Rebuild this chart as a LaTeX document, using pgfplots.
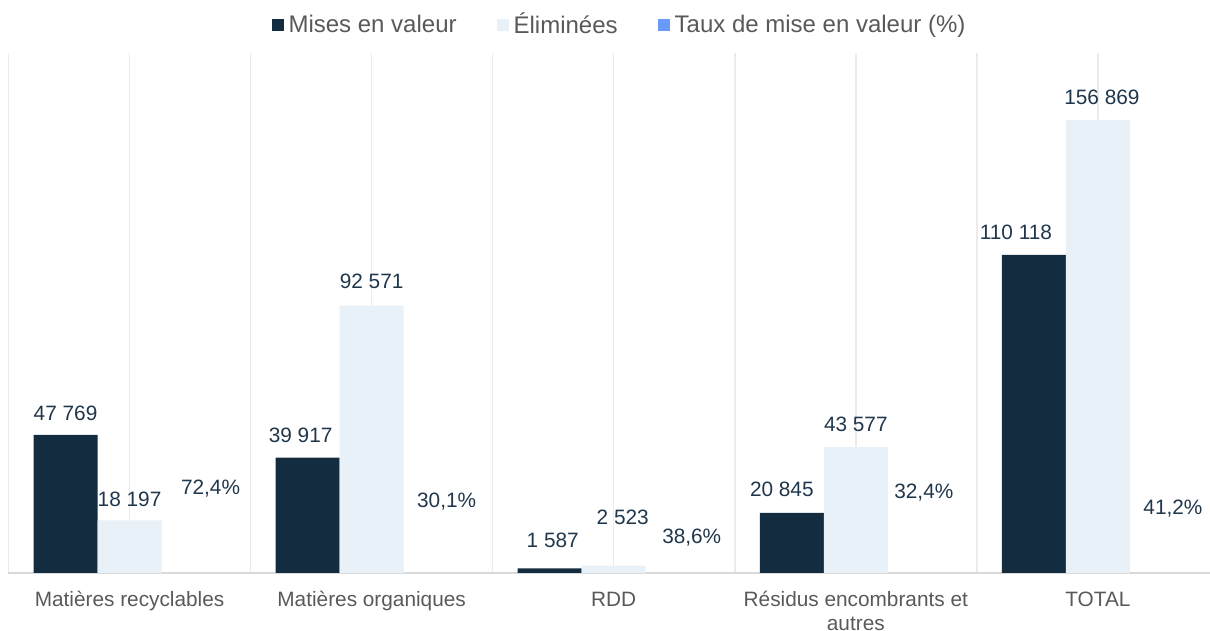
\documentclass[border=0pt]{standalone}
\usepackage{fontspec}
\setmainfont{Liberation Sans}
\usepackage{pgfplots}
\usepackage{pgfplotstable}
\pgfplotsset{compat=1.18}

\definecolor{mev}{HTML}{132C3F}
\definecolor{elim}{HTML}{E8F0F8}
\definecolor{taux}{HTML}{6A9AF8}
\definecolor{lbl}{HTML}{1F364B}
\definecolor{tickc}{HTML}{595959}
\definecolor{grd}{HTML}{EBEBEB}
\definecolor{basec}{HTML}{D9D9D9}

% x, value, label, label shifts (pt)
\pgfplotstableread[col sep=comma]{
x,y,lab,dx,dy
0,47769,47 769,0,7
1,39917,39 917,-3.5,7.8
2,1587,1 587,1.5,10.7
3,20845,20 845,-5,7.9
4,110118,110 118,-9,7.5
}\mev
\pgfplotstableread[col sep=comma]{
x,y,lab,dx,dy
0,18197,18 197,0,7.2
1,92571,92 571,0,8.3
2,2523,2 523,4.5,20.8
3,43577,43 577,0,8
4,156869,156 869,2,7.5
}\elim
\pgfplotstableread[col sep=comma]{
x,y,lab,dx,dy
0,0.724,{72,4\%},8.5,39
1,0.301,{30,1\%},5.5,32.5
2,0.386,{38,6\%},7,14.5
3,0.324,{32,4\%},2,37
4,0.412,{41,2\%},5.5,29
}\taux

\begin{document}
\begin{tikzpicture}
\useasboundingbox (0,0) rectangle (605pt,315.5pt);
\begin{axis}[
    at={(4.25pt,29pt)}, anchor=south west,
    scale only axis,
    width=600.75pt, height=260pt,
    ybar=0pt, bar width=32pt,
    xmin=-0.5, xmax=4.463, ymin=0, ymax=180000,
    enlargelimits=false,
    clip=false,
    axis x line=bottom, axis y line=none,
    x axis line style={-, draw=basec, line width=1pt},
    ytick=\empty,
    xtick={0,...,4},
    minor xtick={-0.5,0.5,1.5,2.5,3.5},
    xmajorgrids=true, xminorgrids=true,
    major grid style={draw=grd, line width=0.75pt},
    minor grid style={draw=grd, line width=0.75pt},
    major tick length=0pt, minor tick length=0pt,
    xticklabels={Matières recyclables, Matières organiques, RDD,
        {\begin{tabular}[t]{@{}c@{}}Résidus encombrants et\\autres\end{tabular}}, TOTAL},
    xticklabel style={font=\fontsize{10.4}{12}\selectfont, text=tickc, anchor=base, inner sep=0pt, yshift=-17pt},
    point meta=explicit symbolic,
    nodes near coords,
    nodes near coords style={font=\fontsize{10.4}{12}\selectfont, text=lbl, anchor=base, inner sep=0pt},
    visualization depends on={\thisrow{dx} \as \dx},
    visualization depends on={\thisrow{dy} \as \dy},
    every node near coord/.append style={xshift=\dx pt, yshift=\dy pt},
    legend columns=-1,
    legend style={at={(0.5077,1.054)}, anchor=center, draw=none, fill=none,
        font=\fontsize{12}{14}\selectfont, text=tickc,
        nodes={inner sep=0pt},
        column sep=2.5pt,
        /tikz/every even column/.append style={column sep=20pt}},
    legend image code/.code={\fill[#1,draw=none] (0pt,-3pt) rectangle (6pt,3pt);},
]
\addplot[fill=mev, draw=none] table[x=x, y=y, meta=lab]{\mev};
\addplot[fill=elim, draw=none] table[x=x, y=y, meta=lab]{\elim};
\addplot[fill=none, draw=none,
    legend image code/.code={\fill[taux] (0pt,-3pt) rectangle (6pt,3pt);}]
    table[x=x, y=y, meta=lab]{\taux};
\legend{Mises en valeur, Éliminées, Taux de mise en valeur (\%)}
\end{axis}
\end{tikzpicture}
\end{document}
